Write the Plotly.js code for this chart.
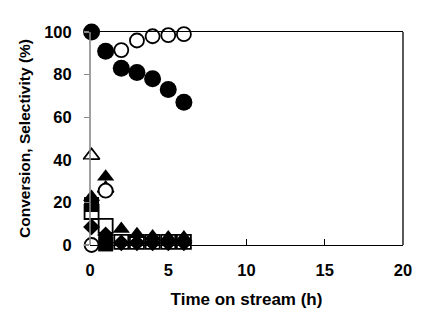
<!DOCTYPE html>
<html>
<head>
<meta charset="utf-8">
<script src="https://cdn.plot.ly/plotly-3.0.1.min.js"></script>
<style>html,body{margin:0;padding:0;background:#fff;}#chart{width:436px;height:326px;}</style>
</head>
<body>
<div id="chart"></div>
<script>
// Time on stream (h)
var timeH = [0.1, 1, 2, 3, 4, 5, 6];
// Series values (%)
var conversion      = [100, 91, 83, 81, 78, 73, 67];   // filled circles
var openSquare      = [15.5, 9, 1.5, 1.5, 1.5, 1.5, 1.5];
var filledSquare    = [19, 0.5, -0.5, -0.5, -0.5, -0.5, -0.5];
var filledDiamond   = [8.5, 4.7, 1, 1, 1, 1, 1];
var filledTriangle  = [22.5, 32, 7.5, 5, 4, 3.5, 3.5];
var openTriangle    = [42, 26.5, null, null, null, null, null];
var openCircle      = [0, 25.5, 91.5, 96, 98, 98.5, 99];

var xTicks = [0, 5, 10, 15, 20];
var yTicks = [0, 20, 40, 60, 80, 100];

var FONT = 'Arial, "Liberation Sans", sans-serif';

function filled(y, symbol, size, name) {
  return {x: timeH, y: y, type: 'scatter', mode: 'markers', name: name, cliponaxis: false,
    marker: {symbol: symbol, size: size, color: '#000', line: {width: 0}}};
}
function open(y, symbol, size, name) {
  return {x: timeH, y: y, type: 'scatter', mode: 'markers', name: name, cliponaxis: false,
    marker: {symbol: symbol, size: size, color: '#fff', line: {width: 1.8, color: '#000'}}};
}

var data = [
  filled(conversion, 'circle', 17, 'Conversion'),
  open(openSquare, 'square', 14, 'S2'),
  filled(filledSquare, 'square', 15, 'S1'),
  filled(filledDiamond, 'diamond', 13, 'S3'),
  filled(filledTriangle, 'triangle-up', 15, 'S4'),
  open(openTriangle, 'triangle-up', 14, 'S5'),
  open(openCircle, 'circle', 14, 'S6')
];

var layout = {
  width: 436, height: 326,
  margin: {l: 90, r: 33, t: 32, b: 81},
  paper_bgcolor: '#fff', plot_bgcolor: '#fff',
  showlegend: false,
  font: {family: FONT, color: '#000'},
  xaxis: {
    range: [0, 20], tickvals: xTicks, ticktext: xTicks.map(String),
    showgrid: false, zeroline: false,
    showline: true, linecolor: '#000', linewidth: 1.3, mirror: true,
    ticks: 'inside', ticklen: 6, tickcolor: '#000', tickwidth: 1.3,
    ticklabelstandoff: 10,
    tickfont: {family: FONT, size: 16.5, weight: 'bold', color: '#000'},
    title: {text: 'Time on stream (h)', font: {family: FONT, size: 17, weight: 'bold', color: '#000'}, standoff: 15}
  },
  yaxis: {
    range: [0, 100], tickvals: yTicks, ticktext: yTicks.map(String),
    showgrid: false, zeroline: false, showline: false,
    ticks: 'outside', ticklen: 5, tickcolor: '#888', tickwidth: 1.3,
    ticklabelstandoff: 9,
    tickfont: {family: FONT, size: 16.5, weight: 'bold', color: '#000'},
    title: {text: 'Conversion, Selectivity (%)', font: {family: FONT, size: 15.5, weight: 'bold', color: '#000'}, standoff: 9}
  },
  shapes: [
    {type: 'line', xref: 'paper', yref: 'y', x0: 0, x1: 0, y0: -3.3, y1: 100, line: {color: '#888', width: 1.6}},
    {type: 'line', xref: 'paper', yref: 'paper', x0: 1, x1: 1, y0: 0, y1: 1, line: {color: '#000', width: 1.3}}
  ]
};

Plotly.newPlot('chart', data, layout, {displayModeBar: false, staticPlot: true});
</script>
</body>
</html>
